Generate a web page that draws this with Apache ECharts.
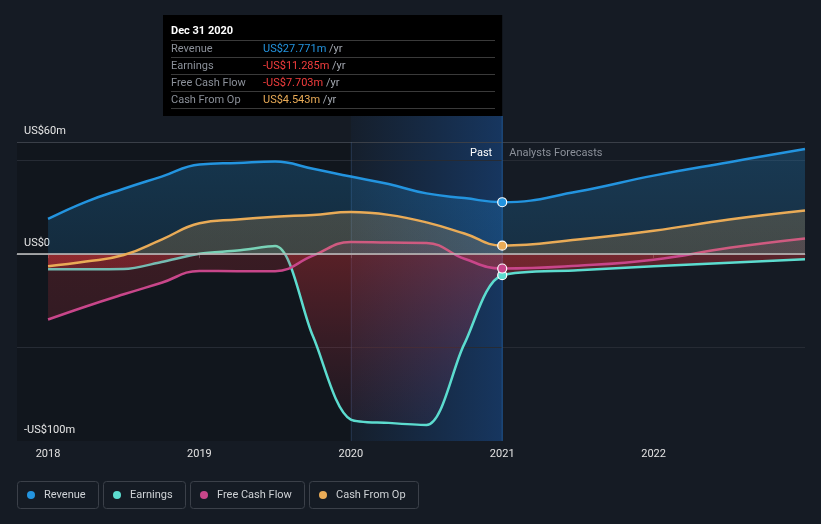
<!DOCTYPE html>
<html><head><meta charset="utf-8">
<script src="https://cdn.jsdelivr.net/npm/echarts@6/dist/echarts.min.js"></script>
<style>html,body{margin:0;padding:0;background:#151b24;}#c{width:821px;height:524px;}</style>
</head><body><div id="c"></div>
<script>
// ---------- data ----------
const pastYears = [2018, 2018.25, 2018.5, 2018.75, 2019, 2019.25, 2019.5, 2019.75, 2020, 2020.25, 2020.5, 2020.75, 2021];
const forecastYears = [2021.5, 2022, 2022.5, 2023];
const revenuePast = [18.8, 28, 35, 41.5, 48, 48.8, 49.5, 45.7, 41.5, 37.5, 32.5, 30, 27.771];
const revenueForecast = [33.5, 42, 49.2, 56.3];
const earningsPast = [-8.1, -8.1, -8.0, -4.2, 0.2, 1.9, 4.3, -44, -88.5, -90.3, -91.4, -48, -11.285];
const earningsForecast = [-8.6, -6.5, -4.6, -2.8];
const fcfPast = [-35, -28, -21.5, -15.3, -9, -9.1, -9.1, -0.8, 6.5, 6.2, 6.0, -2.5, -7.703];
const fcfForecast = [-6.2, -3, 3.4, 8.4];
const cfoPast = [-6.5, -4, -0.5, 7.8, 16.5, 18.5, 20, 21, 22.5, 21, 17, 11, 4.543];
const cfoForecast = [7.8, 12.5, 18.5, 23.3];
const seriesNames = ['Revenue', 'Earnings', 'Free Cash Flow', 'Cash From Op'];
const xTickYears = [2018, 2019, 2020, 2021, 2022];
const yTickLabels = {'60': 'US$60m', '0': 'US$0', '-100': '-US$100m'};
const tooltipDate = 'Dec 31 2020';
const bandStartYear = 2020;
const highlightYear = 2021;
const pastLabel = 'Past';
const forecastLabel = 'Analysts Forecasts';

// ---------- styles ----------
const colors = ['#2394df', '#5cdccf', '#c8468a', '#e9ab57'];
const smoothness = [0.45, 0.3, 0.45, 0.45];
const FONT = 'Roboto';
const years = pastYears.concat(forecastYears);
const allValues = [
  revenuePast.concat(revenueForecast),
  earningsPast.concat(earningsForecast),
  fcfPast.concat(fcfForecast),
  cfoPast.concat(cfoForecast)
];

const chart = echarts.init(document.getElementById('c'));

function seriesData(vals, color) {
  return years.map((x, i) => {
    const item = {value: [x, vals[i]]};
    if (x === highlightYear) {
      item.symbol = 'circle';
      item.symbolSize = 9;
      item.itemStyle = {color: color, borderColor: '#ffffff', borderWidth: 1.2};
    }
    return item;
  });
}

const grid = {left: 17, right: 16, top: 142, bottom: 83};

function baseOption() {
  return {
    backgroundColor: '#151b24',
    animation: false,
    textStyle: {fontFamily: FONT},
    grid: grid,
    xAxis: {
      type: 'value', min: 2017.795, max: 2023.0,
      axisLine: {lineStyle: {color: '#50555e', width: 1}},
      axisTick: {show: true, customValues: xTickYears, length: 4, lineStyle: {color: '#50555e'}},
      axisLabel: {customValues: xTickYears, formatter: v => String(v), color: '#e2e2e2', fontSize: 11, margin: 8, fontFamily: FONT},
      splitLine: {show: false}
    },
    yAxis: {
      type: 'value', min: -100, max: 60, interval: 50,
      axisLine: {show: false}, axisTick: {show: false},
      axisLabel: {
        inside: true, margin: 7, color: '#e6e6e6', fontSize: 11, fontFamily: FONT,
        verticalAlign: 'bottom', lineHeight: 14, padding: [0, 0, 4, 0],
        formatter: v => (yTickLabels[String(v)] !== undefined ? yTickLabels[String(v)] : '')
      },
      splitLine: {show: true, lineStyle: {color: ['transparent', '#262b34', 'transparent', '#262b34', '#3a3f48'], width: 1}}
    },
    series: seriesNames.map((name, i) => ({
      type: 'line', name: name,
      data: seriesData(allValues[i], colors[i]),
      smooth: smoothness[i],
      symbol: 'none', showSymbol: true,
      lineStyle: {width: 2.5, color: colors[i]},
      itemStyle: {color: colors[i]},
      emphasis: {disabled: true},
      silent: true,
      z: 2 + i
    }))
  };
}

chart.setOption(baseOption());

// pixel helpers
const yTop = chart.convertToPixel({yAxisIndex: 0}, 60);
const yZero = chart.convertToPixel({yAxisIndex: 0}, 0);
const yBot = chart.convertToPixel({yAxisIndex: 0}, -100);
const xLeft = chart.convertToPixel({xAxisIndex: 0}, 2017.795);
const xBand = chart.convertToPixel({xAxisIndex: 0}, bandStartYear);
const xHi = chart.convertToPixel({xAxisIndex: 0}, highlightYear);
const f = (yZero - yTop) / (yBot - yTop);

function areaGrad(pos0, pos1, neg0, neg1) {
  return {
    type: 'linear', x: 0, y: yTop, x2: 0, y2: yBot, global: true,
    colorStops: [
      {offset: 0, color: pos0}, {offset: f, color: pos1},
      {offset: f, color: neg0}, {offset: 1, color: neg1}
    ]
  };
}
const areas = [
  areaGrad('rgba(35,148,223,0.26)', 'rgba(35,148,223,0.17)', 'rgba(220,50,55,0.2)', 'rgba(220,50,55,0.1)'),
  areaGrad('rgba(92,220,207,0.10)', 'rgba(92,220,207,0.10)', 'rgba(215,50,55,0.36)', 'rgba(170,50,80,0.04)'),
  areaGrad('rgba(200,70,138,0.12)', 'rgba(200,70,138,0.12)', 'rgba(220,50,60,0.2)', 'rgba(200,50,70,0.12)'),
  areaGrad('rgba(233,171,87,0.22)', 'rgba(233,171,87,0.2)', 'rgba(230,60,60,0.25)', 'rgba(230,60,60,0.15)')
];

// legend measurement
const mctx = document.createElement('canvas').getContext('2d');
mctx.font = '11px ' + FONT;
const legendEls = [];
let lx = 17;
const ly = 481, lh = 27;
seriesNames.forEach((name, i) => {
  const tw = mctx.measureText(name).width;
  const w = Math.round(tw + 39);
  legendEls.push({type: 'rect', z: 50, shape: {x: lx + 0.5, y: ly + 0.5, width: w, height: lh, r: 3},
    style: {fill: 'transparent', stroke: '#3b4049', lineWidth: 1}});
  legendEls.push({type: 'circle', z: 51, shape: {cx: lx + 14, cy: ly + lh / 2 + 0.5, r: 4}, style: {fill: colors[i]}});
  legendEls.push({type: 'text', z: 51, x: lx + 27, y: ly + lh / 2 + 1,
    style: {text: name, fill: '#cfd2d6', font: '11px ' + FONT, verticalAlign: 'middle', align: 'left'}});
  lx += w + 5;
});

// tooltip box
const hiIdx = years.indexOf(highlightYear);
function fmt(v) {
  const s = 'US$' + Math.abs(v).toFixed(3) + 'm';
  return v < 0 ? '-' + s : s;
}
const ttX = 163, ttY = 15, ttW = xHi - 163, ttH = 101;
const tipEls = [
  {type: 'rect', z: 100, shape: {x: ttX, y: ttY, width: ttW, height: ttH}, style: {fill: '#000000'}},
  {type: 'text', z: 101, x: 171, y: 31, style: {text: tooltipDate, fill: '#ffffff', font: 'bold 11px ' + FONT, verticalAlign: 'middle'}}
];
for (let r = 0; r < 5; r++) {
  tipEls.push({type: 'line', z: 101, shape: {x1: 171, y1: 40.5 + 17 * r, x2: 495, y2: 40.5 + 17 * r},
    style: {stroke: '#3a3a3a', lineWidth: 1}});
}
seriesNames.forEach((name, i) => {
  const v = allValues[i][hiIdx];
  const vc = v < 0 ? '#f23d3d' : colors[i];
  tipEls.push({type: 'text', z: 101, x: 171, y: 49 + 17 * i,
    style: {text: name, fill: '#8b9099', font: '11px ' + FONT, verticalAlign: 'middle'}});
  tipEls.push({type: 'text', z: 101, x: 263, y: 49 + 17 * i,
    style: {text: '{v|' + fmt(v) + '} {u|/yr}', verticalAlign: 'middle', font: '11px ' + FONT,
      rich: {v: {fill: vc, font: '11px ' + FONT}, u: {fill: '#a3a8b0', font: '11px ' + FONT}}}});
});

const bgEls = [
  {type: 'rect', z: 0, silent: true, shape: {x: xLeft, y: yTop, width: xBand - xLeft, height: yBot - yTop},
    style: {fill: 'rgba(0,0,0,0.18)'}},
  {type: 'rect', z: 0, silent: true, shape: {x: xBand, y: ttY + ttH, width: xHi - xBand, height: yBot - ttY - ttH},
    style: {fill: {type: 'linear', x: xBand, y: 0, x2: xHi, y2: 0, global: true,
      colorStops: [{offset: 0, color: 'rgba(25,90,170,0.06)'}, {offset: 1, color: 'rgba(25,95,185,0.4)'}]}}},
  {type: 'line', z: 1, silent: true, shape: {x1: xBand + 0.5, y1: yTop, x2: xBand + 0.5, y2: yBot},
    style: {stroke: 'rgba(70,100,150,0.35)', lineWidth: 1}},
  {type: 'line', z: 1, silent: true, shape: {x1: xHi, y1: ttY + ttH, x2: xHi, y2: yBot},
    style: {stroke: '#1e5592', lineWidth: 1}},
  {type: 'text', z: 60, x: xHi - 10, y: 153, style: {text: pastLabel, fill: '#ffffff', font: '11px ' + FONT, align: 'right', verticalAlign: 'middle'}},
  {type: 'text', z: 60, x: xHi + 7, y: 153, style: {text: forecastLabel, fill: '#8b9099', font: '11px ' + FONT, align: 'left', verticalAlign: 'middle'}}
];

const opt = baseOption();
opt.series.forEach((s, i) => { s.areaStyle = {color: areas[i], opacity: 1}; });
opt.series[3].markLine = {
  silent: true, symbol: 'none', animation: false,
  data: [{yAxis: 0}],
  label: {show: false},
  lineStyle: {color: 'rgba(185,185,185,0.8)', width: 2, type: 'solid'}
};
opt.graphic = {elements: bgEls.concat(legendEls, tipEls)};
chart.setOption(opt, true);
</script>
</body></html>
